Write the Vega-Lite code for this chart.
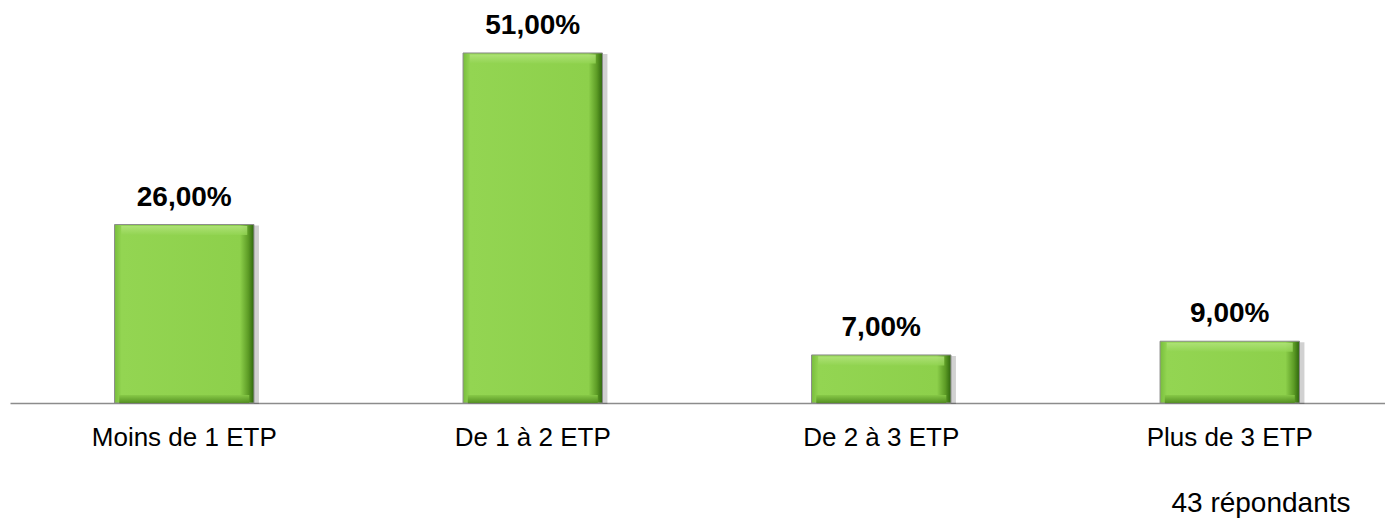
{
  "$schema": "https://vega.github.io/schema/vega-lite/v6.json",
  "autosize": {"type": "none"},
  "width": 1375,
  "height": 403,
  "padding": {"left": 10, "top": 0, "right": 0, "bottom": 116},
  "background": "white",
  "config": {
    "view": {"stroke": null},
    "font": "Liberation Sans",
    "locale": {"number": {"decimal": ",", "thousands": " ", "grouping": [3], "currency": ["", " €"]}}
  },
  "data": {
    "values": [
      {"categorie": "Moins de 1 ETP", "part": 0.26},
      {"categorie": "De 1 à 2 ETP", "part": 0.51},
      {"categorie": "De 2 à 3 ETP", "part": 0.07},
      {"categorie": "Plus de 3 ETP", "part": 0.09}
    ]
  },
  "encoding": {
    "x": {
      "field": "categorie",
      "type": "nominal",
      "sort": null,
      "scale": {"range": [0, 1394], "paddingInner": 0.6, "paddingOuter": 0.3},
      "axis": {
        "title": "43 répondants",
        "titleFontSize": 28,
        "titleFontWeight": "normal",
        "titleColor": "black",
        "titleAlign": "right",
        "titleBaseline": "alphabetic",
        "titleAnchor": null,
        "titleX": 1340,
        "titleY": 108,
        "labelAngle": 0,
        "labelFontSize": 26,
        "labelColor": "black",
        "labelPadding": 21,
        "labelLimit": 0,
        "ticks": false,
        "tickSize": 0,
        "domainColor": "#8c8c8c",
        "domainWidth": 1.5,
        "grid": false
      }
    },
    "y": {
      "field": "part",
      "type": "quantitative",
      "scale": {"domain": [0, 0.5872], "nice": false, "zero": true},
      "axis": null
    }
  },
  "layer": [
    {
      "mark": {"type": "bar", "xOffset": 5, "yOffset": 1, "color": "#000000", "opacity": 0.18}
    },
    {
      "mark": {
        "type": "bar",
        "stroke": "#8a8a8a",
        "strokeWidth": 1,
        "color": {
          "gradient": "linear",
          "x1": 0, "y1": 0, "x2": 1, "y2": 0,
          "stops": [
            {"offset": 0, "color": "#78bd3c"},
            {"offset": 0.05, "color": "#93d552"},
            {"offset": 0.9, "color": "#8dd04b"},
            {"offset": 0.96, "color": "#5c9b25"},
            {"offset": 1, "color": "#2e660c"}
          ]
        }
      }
    },
    {
      "mark": {
        "type": "tick",
        "orient": "horizontal",
        "size": 126,
        "thickness": 9,
        "yOffset": 6,
        "opacity": 0.8,
        "color": {
          "gradient": "linear",
          "x1": 0, "y1": 0, "x2": 0, "y2": 1,
          "stops": [
            {"offset": 0, "color": "#b4e57e"},
            {"offset": 1, "color": "#92d452"}
          ]
        }
      }
    },
    {
      "mark": {
        "type": "tick",
        "orient": "horizontal",
        "size": 130,
        "thickness": 8,
        "yOffset": -4,
        "opacity": 0.9,
        "color": {
          "gradient": "linear",
          "x1": 0, "y1": 0, "x2": 0, "y2": 1,
          "stops": [
            {"offset": 0, "color": "#86c846"},
            {"offset": 1, "color": "#4f8a1e"}
          ]
        }
      },
      "encoding": {"y": {"datum": 0, "type": "quantitative"}}
    },
    {
      "mark": {"type": "text", "baseline": "alphabetic", "dy": -19, "fontSize": 28, "fontWeight": "bold", "color": "black"},
      "encoding": {"text": {"field": "part", "type": "quantitative", "format": ".2%"}}
    }
  ]
}
